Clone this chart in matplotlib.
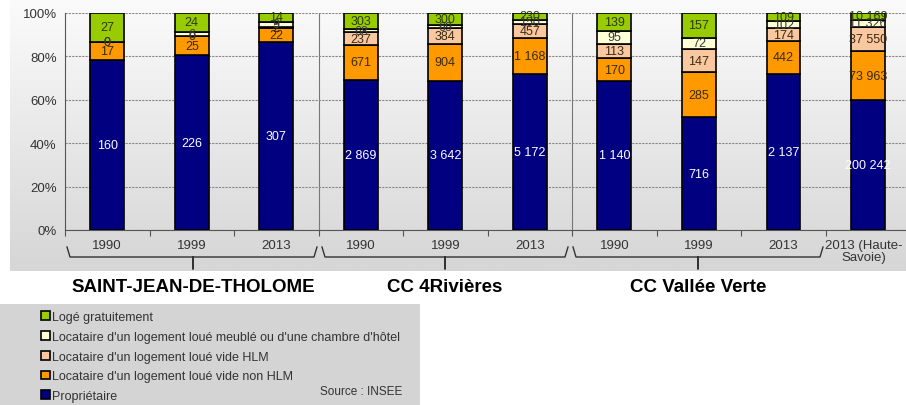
import matplotlib
matplotlib.use('agg')

import matplotlib.pyplot as plt
import numpy as np
from matplotlib.patches import Rectangle
from matplotlib.lines import Line2D

plt.rcParams['font.family'] = ['Liberation Sans', 'DejaVu Sans']

years = ['1990', '1999', '2013', '1990', '1999', '2013', '1990', '1999', '2013',
         '2013 (Haute-\nSavoie)']
groups = ['SAINT-JEAN-DE-THOLOME', 'CC 4Rivières', 'CC Vallée Verte']

proprietaire = [160, 226, 307, 2869, 3642, 5172, 1140, 716, 2137, 200242]
vide_non_hlm = [17, 25, 22, 671, 904, 1168, 170, 285, 442, 73963]
vide_hlm = [0, 0, 2, 237, 384, 457, 113, 147, 174, 37550]
meuble = [0, 6, 9, 68, 69, 150, 95, 72, 102, 11326]
gratuit = [27, 24, 14, 303, 300, 230, 139, 157, 109, 10169]

series = [
    ('Propriétaire', proprietaire, '#000080', 'white'),
    ("Locataire d'un logement loué vide non HLM", vide_non_hlm, '#ff9900', '#3a2a10'),
    ("Locataire d'un logement loué vide HLM", vide_hlm, '#fac8a0', '#3a2a10'),
    ("Locataire d'un logement loué meublé ou d'une chambre d'hôtel", meuble, '#ffffd8', '#3a3a3a'),
    ('Logé gratuitement', gratuit, '#99cc00', '#2a3a10'),
]

W, H = 906, 406
fig = plt.figure(figsize=(W / 100, H / 100), dpi=100)

# grey gradient panel behind the chart
bg = fig.add_axes([10 / W, 1 - 272 / H, 1 - 10 / W, 272 / H])
grad = np.linspace(0, 1, 100).reshape(-1, 1)
bg.imshow(grad, aspect='auto', cmap=matplotlib.colors.LinearSegmentedColormap.from_list(
    'g', ['#fbfbfb', '#d6d6d6']), extent=[0, 1, 0, 1], origin='upper')
bg.set_axis_off()

ax = fig.add_axes([65 / W, 1 - 231 / H, 1 - 65 / W, 217 / H])
ax.patch.set_alpha(0)

totals = np.sum([s[1] for s in series], axis=0)
x = np.arange(len(years))
bottom = np.zeros(len(years))
for name, vals, color, tcol in series:
    share = np.array(vals) / totals * 100
    ax.bar(x, share, 0.4, bottom=bottom, color=color, edgecolor='black', linewidth=1.2,
           label=name, zorder=3)
    for i, v in enumerate(vals):
        lab = f'{v:,}'.replace(',', ' ')
        ax.text(x[i], bottom[i] + share[i] / 2, lab, ha='center', va='center',
                fontsize=9, color=tcol, zorder=4)
    bottom += share

ax.set_xlim(-0.5, 9.45)
ax.set_ylim(0, 100)
ax.set_yticks(range(0, 101, 20))
ax.set_yticklabels([f'{v}%' for v in range(0, 101, 20)], fontsize=9.5, color='#333333')
ax.yaxis.grid(True, linestyle=(0, (2, 1)), color='#888888', linewidth=0.8, zorder=0)
ax.set_xticks(np.arange(-0.5, 9.5, 1))
ax.set_xticklabels([])
ax.tick_params(axis='x', length=4, direction='out', color='#555555')
ax.tick_params(axis='y', length=0, pad=6)
for side in ['top', 'right']:
    ax.spines[side].set_visible(False)
ax.spines['left'].set_color('#555555')
ax.spines['bottom'].set_color('#555555')
for b in [2.5, 5.5]:
    ax.axvline(b, color='#777777', linewidth=0.8, zorder=1)

for i, lab in enumerate(years):
    ax.text(x[i] - (0.05 if i == 9 else 0), -4, lab, ha='center', va='top', fontsize=9.5,
            color='#333333', clip_on=False, linespacing=1.0)

# braces and group names
def fx(px):
    return px / W

def fy(py):
    return 1 - py / H

brace_spans = [(67, 317, 193), (322, 568, 445), (573, 823, 698)]
for (x0, x1, xc), name in zip(brace_spans, groups):
    pts_x = [x0, x0 + 3, xc - 3, xc, xc, xc, xc + 3, x1 - 3, x1]
    pts_y = [248, 258, 258, 258, 270, 258, 258, 258, 248]
    fig.add_artist(Line2D([fx(p) for p in pts_x], [fy(p) for p in pts_y],
                          color='#333333', linewidth=1.0))
    fig.text(fx(xc), fy(288), name, ha='center', va='center', fontsize=13.5,
             fontweight='bold', color='black')

# legend box
fig.add_artist(Rectangle((0, 0), 420 / W, 101 / H, transform=fig.transFigure,
                         facecolor='#d4d4d4', edgecolor='none'))
handles, labels = ax.get_legend_handles_labels()
leg = fig.legend(handles[::-1], labels[::-1], loc='upper left',
                 bbox_to_anchor=(36 / W, fy(307)), frameon=False, fontsize=9,
                 handlelength=0.7, handleheight=0.7, handletextpad=0.2,
                 labelspacing=0.62, borderaxespad=0)
for t in leg.get_texts():
    t.set_color('#333333')
fig.text(fx(402), fy(392), 'Source : INSEE', ha='right', va='center', fontsize=8.5,
         color='#333333')

fig.savefig('out.png', dpi=100)
